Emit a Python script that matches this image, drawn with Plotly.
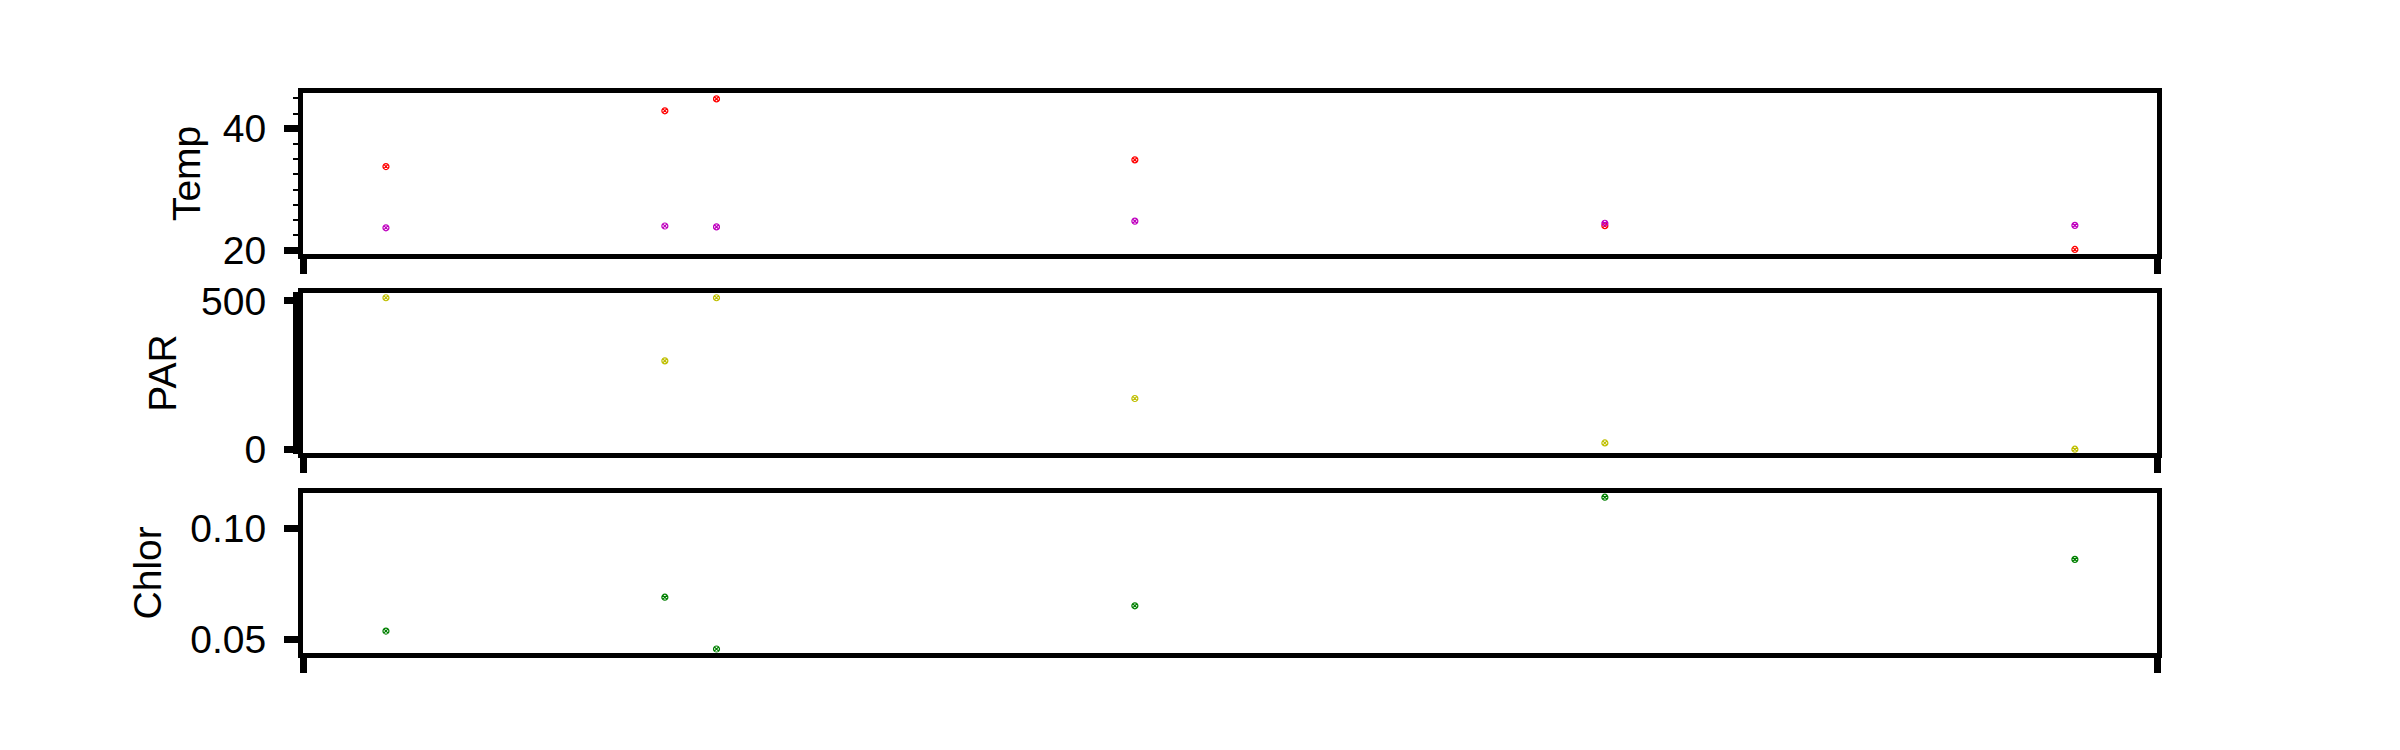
import plotly.graph_objects as go

# ---- data ----
day = [0, 54, 64, 145, 236, 327]
temp_a = [33.8, 42.95, 44.9, 34.9, 24.1, 20.2]      # red
temp_b = [23.75, 24.05, 23.9, 24.85, 24.5, 24.15]   # magenta
par = [511, 298, 511, 171, 21, 0]                    # yellow
chlor = [0.0536, 0.0689, 0.0455, 0.0650, 0.1141, 0.0860]  # green

temp_ticks = [20, 40]
par_ticks = [0, 500]
chlor_ticks = [0.05, 0.10]

x_range = [-16.06, 342.9]
temp_range = [19.48, 45.87]
par_range = [-13.5, 527.6]
chlor_range = [0.04368, 0.11617]

FONT = "Liberation Sans, Arial, sans-serif"
FS = 39
LW = 5

fig = go.Figure()

def mk(x, y, color, xa, ya):
    return go.Scatter(x=x, y=y, mode="markers", xaxis=xa, yaxis=ya,
                      marker=dict(symbol="circle-x-open", size=6, color=color,
                                  line=dict(width=1.2, color=color)),
                      showlegend=False, hoverinfo="x+y")

fig.add_trace(mk(day, temp_a, "#ff0000", "x", "y"))
fig.add_trace(mk(day, temp_b, "#bf00bf", "x", "y"))
fig.add_trace(mk(day, par, "#bfbf00", "x2", "y2"))
fig.add_trace(mk(day, chlor, "#008000", "x3", "y3"))

def xaxis(anchor):
    return dict(anchor=anchor, domain=[0, 1], range=x_range, showgrid=False,
                zeroline=False, showline=True, linewidth=LW, linecolor="black",
                mirror=True, ticks="outside", ticklen=15, tickwidth=7,
                tickcolor="black", tickvals=x_range, showticklabels=False)

def yaxis(anchor, dom, rng, tv, title, standoff, fmt=None, minor=True):
    d = dict(anchor=anchor, domain=dom, range=rng, showgrid=False, zeroline=False,
             showline=True, linewidth=LW, linecolor="black", mirror=True,
             ticks="outside", ticklen=14, tickwidth=7, tickcolor="black",
             ticklabelstandoff=10,
             tickvals=tv, tickfont=dict(family=FONT, size=FS, color="black"),
             title=dict(text=title, standoff=standoff,
                        font=dict(family=FONT, size=FS, color="black")))
    if fmt:
        d["tickformat"] = fmt
    if minor:
        d["minor"] = dict(dtick=2.5, tick0=0, ticks="outside", ticklen=5,
                          tickwidth=1.5, tickcolor="black", showgrid=False)
    return d

fig.update_layout(
    width=2400, height=750,
    margin=dict(l=294.5, r=250.5, t=84.5, b=105, pad=0),
    paper_bgcolor="white", plot_bgcolor="white",
    xaxis=xaxis("y"), xaxis2=xaxis("y2"), xaxis3=xaxis("y3"),
    yaxis=yaxis("x", [0.7128, 1.0], temp_range, temp_ticks, "Temp", 12),
    yaxis2=yaxis("x2", [0.3568, 0.6432], par_range, par_ticks, "PAR", 14),
    yaxis3=yaxis("x3", [0.0, 0.2864], chlor_range, chlor_ticks, "Chlor", 18,
                 fmt=".2f", minor=False),
    font=dict(family=FONT, size=FS, color="black"),
)

fig.write_html("out.html")
